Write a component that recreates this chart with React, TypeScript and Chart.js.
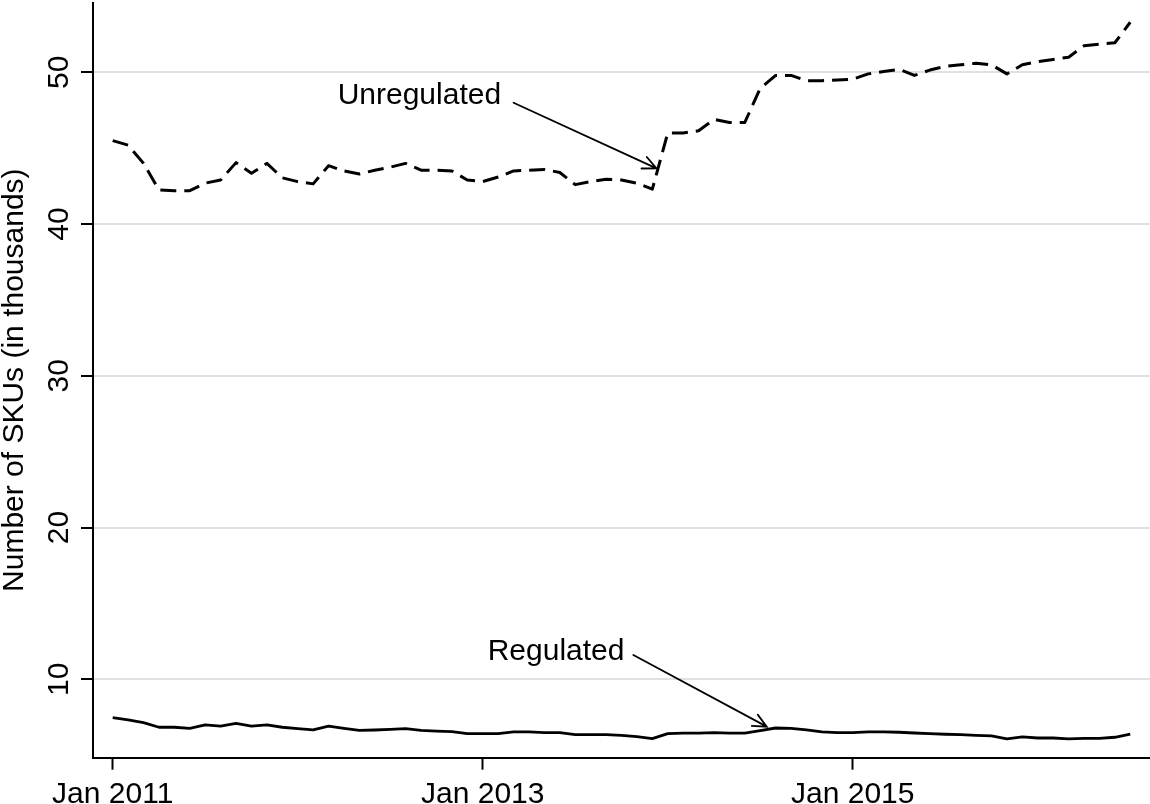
import React, { useEffect, useRef } from "react";
import { Chart, registerables } from "chart.js";

Chart.register(...registerables);

// Monthly observations, Jan 2011 (index 0) to Jul 2016 (index 66)
const unregulated = [
  45.5, 45.2, 44.0, 42.25, 42.2, 42.2, 42.7, 42.9, 44.05, 43.35,
  44.0, 43.05, 42.8, 42.65, 43.85, 43.5, 43.3, 43.55, 43.75, 44.0,
  43.55, 43.55, 43.5, 42.9, 42.8, 43.1, 43.5, 43.55, 43.6, 43.4,
  42.6, 42.8, 42.95, 42.9, 42.7, 42.3, 46.0, 46.0, 46.15, 46.9,
  46.7, 46.7, 48.95, 49.8, 49.8, 49.45, 49.45, 49.5, 49.55, 49.9,
  50.05, 50.2, 49.8, 50.15, 50.4, 50.5, 50.6, 50.5, 49.9, 50.5,
  50.7, 50.85, 51.0, 51.75, 51.85, 51.95, 53.3,
];

const regulated = [
  7.47, 7.32, 7.14, 6.84, 6.84, 6.77, 6.99, 6.92, 7.1, 6.92,
  6.99, 6.84, 6.75, 6.66, 6.92, 6.77, 6.64, 6.66, 6.7, 6.75,
  6.64, 6.59, 6.55, 6.42, 6.42, 6.42, 6.53, 6.53, 6.48, 6.48,
  6.35, 6.35, 6.35, 6.31, 6.22, 6.09, 6.42, 6.45, 6.45, 6.48,
  6.45, 6.45, 6.62, 6.79, 6.77, 6.66, 6.53, 6.48, 6.48, 6.53,
  6.53, 6.51, 6.46, 6.42, 6.38, 6.35, 6.31, 6.27, 6.07, 6.2,
  6.13, 6.13, 6.07, 6.11, 6.11, 6.18, 6.38,
];

const xTickValues = [0, 24, 48];
const xTickLabels = ["Jan 2011", "Jan 2013", "Jan 2015"];
const yTickValues = [10, 20, 30, 40, 50];
const yTitle = "Number of SKUs (in thousands)";

const seriesNames = ["Unregulated", "Regulated"];

// annotation placement in data coordinates (month index, value)
const annotationText = [
  [14.59, 47.94],
  [24.32, 11.27],
];
const annotationFrom = [
  [26.0, 48.0],
  [33.77, 11.6],
];
const annotationTo = [
  [35.27, 43.67],
  [42.42, 6.88],
];

const FONT = '30px "Liberation Sans", Arial, Helvetica, sans-serif';

const textPlugin = {
  id: "stataText",
  afterDraw(chart: any) {
    const ctx = chart.ctx as CanvasRenderingContext2D;
    const xs = chart.scales.x;
    const ys = chart.scales.y;
    const area = chart.chartArea;
    ctx.save();
    ctx.fillStyle = "#000";
    ctx.strokeStyle = "#000";
    ctx.font = FONT;

    // y tick labels (rotated)
    yTickValues.forEach((v) => {
      const py = ys.getPixelForValue(v);
      ctx.save();
      ctx.translate(68.3, py);
      ctx.rotate(-Math.PI / 2);
      ctx.textAlign = "center";
      ctx.textBaseline = "alphabetic";
      ctx.fillText(String(v), 0, 0);
      ctx.restore();
    });

    // y title
    ctx.save();
    ctx.translate(23.3, (area.top + area.bottom) / 2);
    ctx.rotate(-Math.PI / 2);
    ctx.textAlign = "center";
    ctx.textBaseline = "alphabetic";
    ctx.fillText(yTitle, 0, 0);
    ctx.restore();

    // x tick labels
    ctx.textAlign = "center";
    ctx.textBaseline = "alphabetic";
    xTickValues.forEach((v, i) => {
      ctx.fillText(xTickLabels[i], xs.getPixelForValue(v), 803.2);
    });

    // annotations with arrows
    seriesNames.forEach((name, i) => {
      const tx = xs.getPixelForValue(annotationText[i][0]);
      const ty = ys.getPixelForValue(annotationText[i][1]);
      ctx.textAlign = "left";
      ctx.fillText(name, tx, ty);

      const x1 = xs.getPixelForValue(annotationFrom[i][0]);
      const y1 = ys.getPixelForValue(annotationFrom[i][1]);
      const x2 = xs.getPixelForValue(annotationTo[i][0]);
      const y2 = ys.getPixelForValue(annotationTo[i][1]);
      ctx.lineWidth = 1.8;
      ctx.lineCap = "round";
      ctx.beginPath();
      ctx.moveTo(x1, y1);
      ctx.lineTo(x2, y2);
      const ang = Math.atan2(y2 - y1, x2 - x1);
      const back = ang + Math.PI;
      const len = 15;
      const half = (25 * Math.PI) / 180;
      ctx.moveTo(x2 + len * Math.cos(back - half), y2 + len * Math.sin(back - half));
      ctx.lineTo(x2, y2);
      ctx.lineTo(x2 + len * Math.cos(back + half), y2 + len * Math.sin(back + half));
      ctx.stroke();
    });

    ctx.restore();
  },
};

export default function App() {
  const canvasRef = useRef<HTMLCanvasElement | null>(null);

  useEffect(() => {
    if (!canvasRef.current) return;
    const chart = new Chart(canvasRef.current, {
      type: "line",
      data: {
        datasets: [
          {
            label: seriesNames[0],
            data: unregulated.map((v, i) => ({ x: i, y: v })),
            borderColor: "#000",
            borderWidth: 3,
            borderDash: [16, 8],
            borderJoinStyle: "round",
            pointRadius: 0,
            tension: 0,
            fill: false,
          },
          {
            label: seriesNames[1],
            data: regulated.map((v, i) => ({ x: i, y: v })),
            borderColor: "#000",
            borderWidth: 2.8,
            borderJoinStyle: "round",
            pointRadius: 0,
            tension: 0,
            fill: false,
          },
        ],
      },
      options: {
        animation: false,
        responsive: false,
        devicePixelRatio: 1,
        events: [],
        layout: { padding: { top: 2.7, left: 0, right: 0, bottom: 0 } },
        plugins: {
          legend: { display: false },
          tooltip: { enabled: false },
          title: { display: false },
        },
        scales: {
          x: {
            type: "linear",
            min: -1.278,
            max: 67.28,
            afterBuildTicks: (scale: any) => {
              scale.ticks = xTickValues.map((value) => ({ value }));
            },
            afterFit: (scale: any) => {
              scale.height = 46.3;
            },
            ticks: { display: false },
            grid: {
              display: true,
              drawOnChartArea: false,
              drawTicks: true,
              tickLength: 12,
              tickWidth: 2,
              tickColor: "#000",
            },
            border: { display: true, color: "#000", width: 2 },
          },
          y: {
            type: "linear",
            min: 4.833,
            max: 54.59,
            afterBuildTicks: (scale: any) => {
              scale.ticks = yTickValues.map((value) => ({ value }));
            },
            afterFit: (scale: any) => {
              scale.width = 93;
            },
            ticks: { display: false },
            grid: {
              display: true,
              color: "#e1e1e1",
              lineWidth: 2,
              drawTicks: true,
              tickLength: 12,
              tickWidth: 2,
              tickColor: "#000",
            },
            border: { display: true, color: "#000", width: 2 },
          },
        },
      } as any,
      plugins: [textPlugin],
    });
    return () => chart.destroy();
  }, []);

  return (
    <div style={{ position: "absolute", left: 0, top: 0, width: 1150, height: 804, background: "#fff" }}>
      <canvas ref={canvasRef} width={1150} height={804} style={{ display: "block" }} />
    </div>
  );
}
